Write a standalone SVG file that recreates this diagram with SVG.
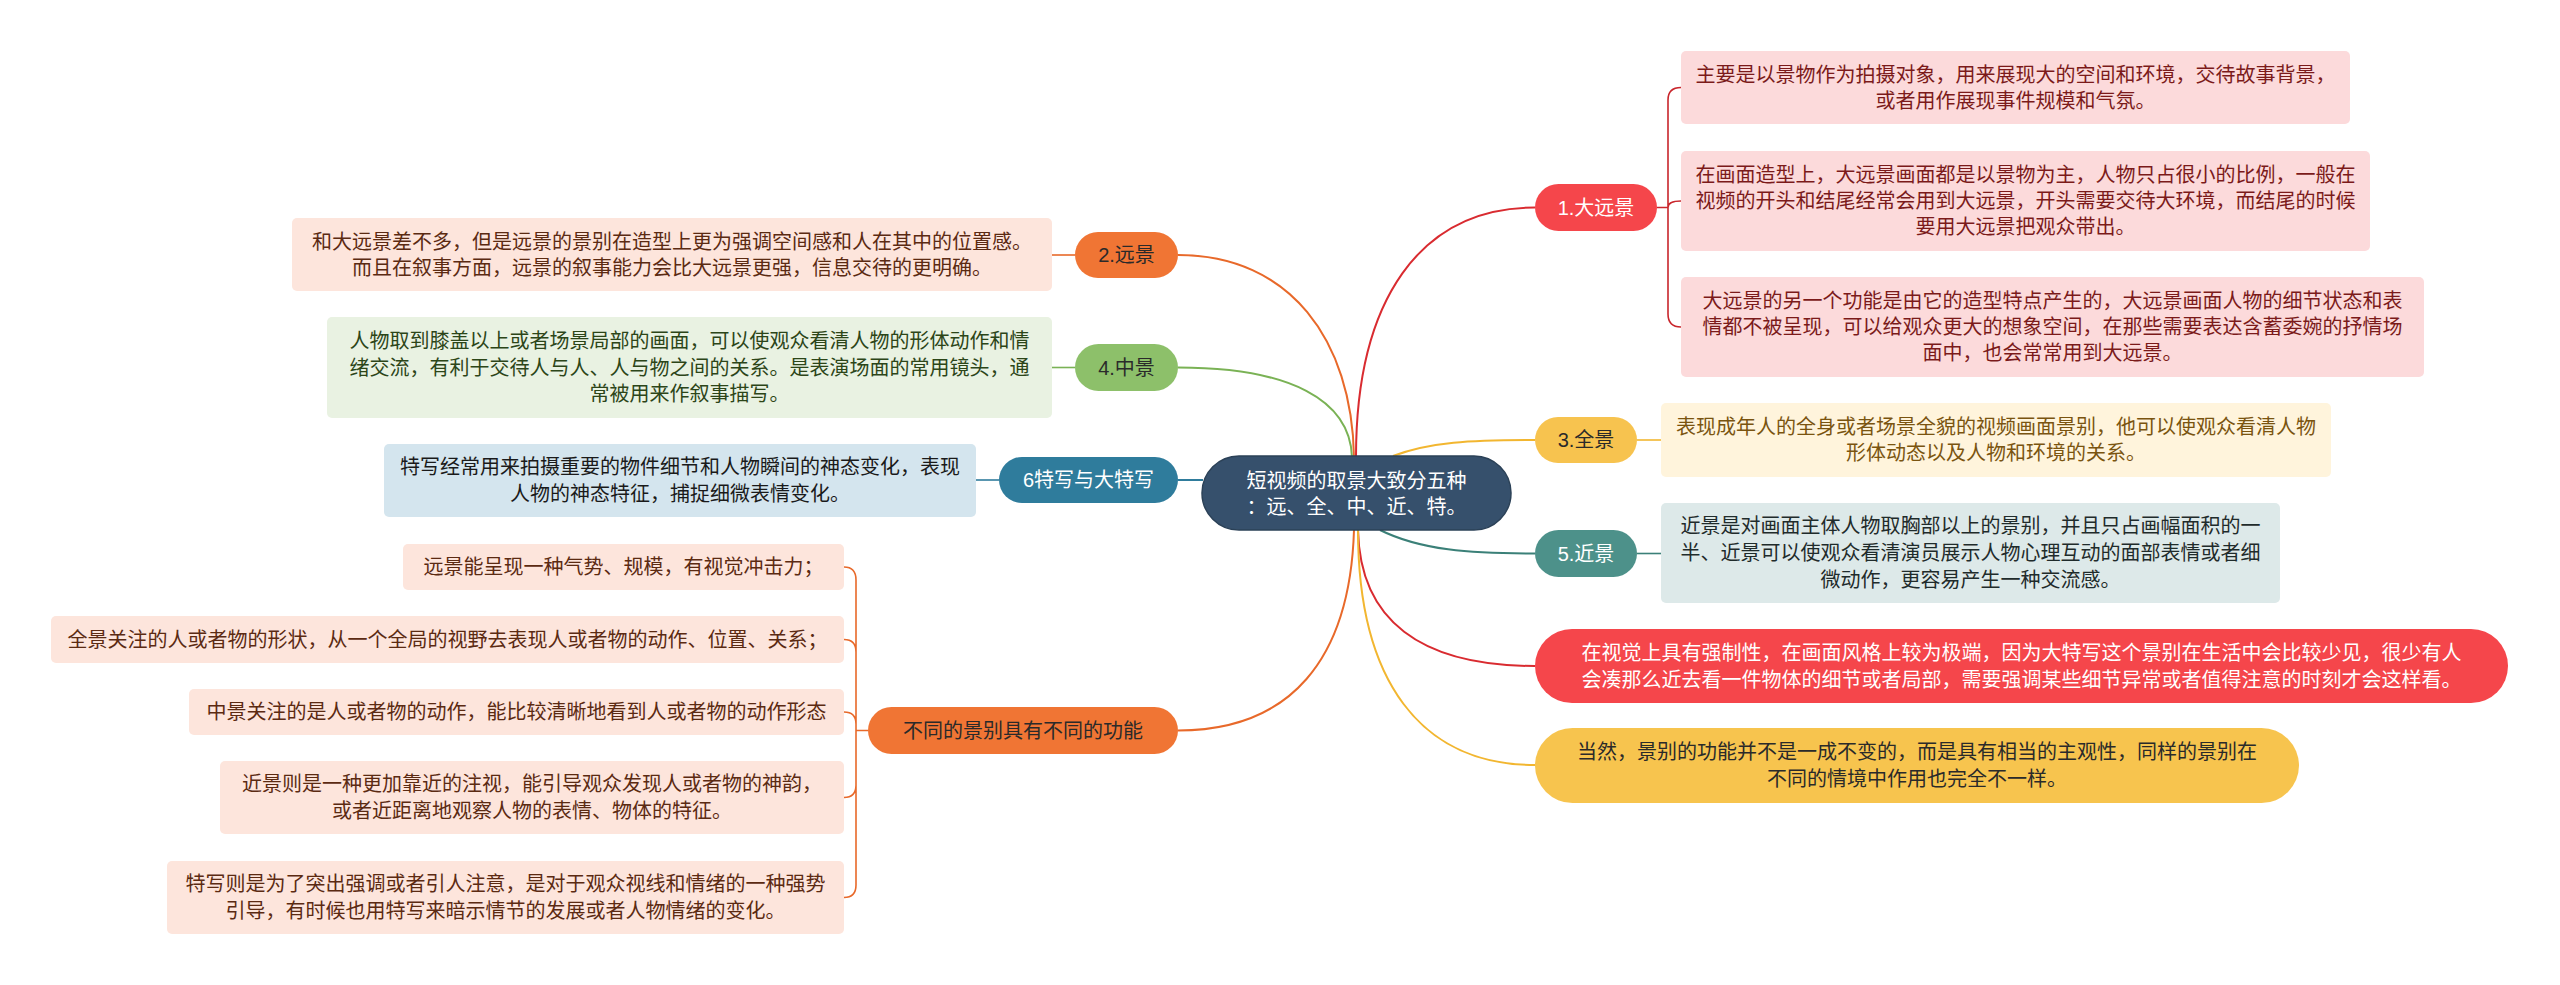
<svg xmlns="http://www.w3.org/2000/svg" width="2560" height="985" viewBox="0 0 2560 985">
<style>
text{font-family:"Liberation Sans","Noto Sans CJK SC",sans-serif;font-size:20px;text-anchor:middle;dominant-baseline:central}
.w{fill:#ffffff}
.dk{fill:#2a2a2a}
.tA{fill:#7b1a1a}
.t3{fill:#7a5410}
.t5{fill:#1f2b2b}
.t2{fill:#5b2a12}
.t4{fill:#2c4518}
.t6{fill:#1a1a1a}
.bx{stroke:none}
.c{fill:none;stroke-width:2}
.cs{fill:none;stroke-width:1.6}
</style>
<rect width="2560" height="985" fill="#ffffff"/>
<g id="connectors">
  <path class="c" stroke="#d92b30" d="M1356 457 C1356 300 1420 207.5 1535 207.5"/>
  <path class="c" stroke="#e8692a" d="M1178 255 C1290 255 1352 340 1354 457"/>
  <path class="c" stroke="#7ab255" d="M1178 367.5 C1290 367.5 1350 400 1352 457"/>
  <path class="c" stroke="#f2b630" d="M1393 456 C1430 442 1470 440 1535 440"/>
  <path class="c" stroke="#3b8078" d="M1380 530 C1420 550 1470 553.5 1535 553.5"/>
  <path class="c" stroke="#2f7c9c" d="M1178 480 H1203"/>
  <path class="c" stroke="#d92b30" d="M1358 530 C1360 620 1420 666 1535 666"/>
  <path class="c" stroke="#f2b630" d="M1358 530 C1358 680 1420 765 1535 765"/>
  <path class="c" stroke="#e8692a" d="M1354 530 C1350 660 1290 730.5 1178 730.5"/>
  <path class="cs" stroke="#c9262c" d="M1657 207.5 H1668 M1668 207.5 V100 Q1668 87.5 1681 87.5 M1668 207.5 Q1668 201 1681 201 M1668 207.5 V314 Q1668 327 1681 327"/>
  <path class="cs" stroke="#f2b630" d="M1637 440 H1661"/>
  <path class="cs" stroke="#3b8078" d="M1637 553.5 H1661"/>
  <path class="cs" stroke="#e8692a" d="M1075 255 H1052"/>
  <path class="cs" stroke="#7ab255" d="M1075 367.5 H1052"/>
  <path class="cs" stroke="#2f7c9c" d="M999 480 H976"/>
  <path class="cs" stroke="#e8692a" d="M868 730.5 H856 M856 730.5 V580 Q856 567 844 567 M856 730.5 V652 Q856 639.5 844 639.5 M856 730.5 V724 Q856 712 844 712 M856 730.5 V785 Q856 797.5 844 797.5 M856 730.5 V885 Q856 897.5 844 897.5"/>
</g>
<g id="center">
  <rect x="1202" y="456" width="309" height="74" rx="37" fill="#36506c" stroke="#2b4157" stroke-width="1.5"/>
  <text class="w" x="1356.5" y="481">短视频的取景大致分五种</text>
  <text class="w" x="1356.5" y="507">：远、全、中、近、特。</text>
</g>
<g id="n1">
  <rect x="1535" y="184" width="122" height="47" rx="23.5" fill="#f5464b"/>
  <text class="w" x="1596" y="207.5">1.大远景</text>
</g>
<g id="n1a">
  <rect x="1681" y="51" width="669" height="73" rx="5" fill="#fcdadb"/>
  <text class="tA" x="2015.5" y="75">主要是以景物作为拍摄对象，用来展现大的空间和环境，交待故事背景，</text>
  <text class="tA" x="2015.5" y="101">或者用作展现事件规模和气氛。</text>
</g>
<g id="n1b">
  <rect x="1681" y="151" width="689" height="100" rx="5" fill="#fcdadb"/>
  <text class="tA" x="2025.5" y="175">在画面造型上，大远景画面都是以景物为主，人物只占很小的比例，一般在</text>
  <text class="tA" x="2025.5" y="201">视频的开头和结尾经常会用到大远景，开头需要交待大环境，而结尾的时候</text>
  <text class="tA" x="2025.5" y="227">要用大远景把观众带出。</text>
</g>
<g id="n1c">
  <rect x="1681" y="277" width="743" height="100" rx="5" fill="#fcdadb"/>
  <text class="tA" x="2052.5" y="301">大远景的另一个功能是由它的造型特点产生的，大远景画面人物的细节状态和表</text>
  <text class="tA" x="2052.5" y="327">情都不被呈现，可以给观众更大的想象空间，在那些需要表达含蓄委婉的抒情场</text>
  <text class="tA" x="2052.5" y="353">面中，也会常常用到大远景。</text>
</g>
<g id="n3">
  <rect x="1535" y="417" width="102" height="46" rx="23" fill="#f7c34f"/>
  <text class="dk" x="1586" y="440">3.全景</text>
</g>
<g id="n3a">
  <rect x="1661" y="403" width="670" height="74" rx="5" fill="#fff4dc"/>
  <text class="t3" x="1996" y="427">表现成年人的全身或者场景全貌的视频画面景别，他可以使观众看清人物</text>
  <text class="t3" x="1996" y="453">形体动态以及人物和环境的关系。</text>
</g>
<g id="n5">
  <rect x="1535" y="530" width="102" height="47" rx="23.5" fill="#4d918a"/>
  <text class="w" x="1586" y="553.5">5.近景</text>
</g>
<g id="n5a">
  <rect x="1661" y="503" width="619" height="100" rx="5" fill="#dde9e9"/>
  <text class="t5" x="1970.5" y="526">近景是对画面主体人物取胸部以上的景别，并且只占画幅面积的一</text>
  <text class="t5" x="1970.5" y="553">半、近景可以使观众看清演员展示人物心理互动的面部表情或者细</text>
  <text class="t5" x="1970.5" y="580">微动作，更容易产生一种交流感。</text>
</g>
<g id="n7">
  <rect x="1535" y="629" width="973" height="74" rx="37" fill="#f5464b"/>
  <text class="w" x="2021.5" y="653">在视觉上具有强制性，在画面风格上较为极端，因为大特写这个景别在生活中会比较少见，很少有人</text>
  <text class="w" x="2021.5" y="680">会凑那么近去看一件物体的细节或者局部，需要强调某些细节异常或者值得注意的时刻才会这样看。</text>
</g>
<g id="n8">
  <rect x="1535" y="728" width="764" height="75" rx="37.5" fill="#f7c44e"/>
  <text class="dk" x="1917" y="752">当然，景别的功能并不是一成不变的，而是具有相当的主观性，同样的景别在</text>
  <text class="dk" x="1917" y="779">不同的情境中作用也完全不一样。</text>
</g>
<g id="n2">
  <rect x="1075" y="232" width="103" height="46" rx="23" fill="#f07534"/>
  <text class="dk" x="1126.5" y="255">2.远景</text>
</g>
<g id="n2a">
  <rect x="292" y="218" width="760" height="73" rx="5" fill="#fde5dc"/>
  <text class="t2" x="672" y="242">和大远景差不多，但是远景的景别在造型上更为强调空间感和人在其中的位置感。</text>
  <text class="t2" x="672" y="268">而且在叙事方面，远景的叙事能力会比大远景更强，信息交待的更明确。</text>
</g>
<g id="n4">
  <rect x="1075" y="344" width="103" height="47" rx="23.5" fill="#8dc06a"/>
  <text class="dk" x="1126.5" y="367.5">4.中景</text>
</g>
<g id="n4a">
  <rect x="327" y="317" width="725" height="101" rx="5" fill="#e9f2e2"/>
  <text class="t4" x="689.5" y="341">人物取到膝盖以上或者场景局部的画面，可以使观众看清人物的形体动作和情</text>
  <text class="t4" x="689.5" y="367.5">绪交流，有利于交待人与人、人与物之间的关系。是表演场面的常用镜头，通</text>
  <text class="t4" x="689.5" y="394">常被用来作叙事描写。</text>
</g>
<g id="n6">
  <rect x="999" y="457" width="179" height="46" rx="23" fill="#2f7c9c"/>
  <text class="w" x="1088.5" y="480">6特写与大特写</text>
</g>
<g id="n6a">
  <rect x="384" y="444" width="592" height="73" rx="5" fill="#d4e5ee"/>
  <text class="t6" x="680" y="467">特写经常用来拍摄重要的物件细节和人物瞬间的神态变化，表现</text>
  <text class="t6" x="680" y="494">人物的神态特征，捕捉细微表情变化。</text>
</g>
<g id="n9">
  <rect x="868" y="707" width="310" height="47" rx="23.5" fill="#f07534"/>
  <text class="dk" x="1023" y="730.5">不同的景别具有不同的功能</text>
</g>
<g id="n9a">
  <rect x="403" y="544" width="441" height="46" rx="5" fill="#fde5dc"/>
  <text class="t2" x="623.5" y="567">远景能呈现一种气势、规模，有视觉冲击力；</text>
</g>
<g id="n9b">
  <rect x="51" y="616" width="793" height="47" rx="5" fill="#fde5dc"/>
  <text class="t2" x="447.5" y="639.5">全景关注的人或者物的形状，从一个全局的视野去表现人或者物的动作、位置、关系；</text>
</g>
<g id="n9c">
  <rect x="189" y="689" width="655" height="46" rx="5" fill="#fde5dc"/>
  <text class="t2" x="516.5" y="712">中景关注的是人或者物的动作，能比较清晰地看到人或者物的动作形态</text>
</g>
<g id="n9d">
  <rect x="220" y="761" width="624" height="73" rx="5" fill="#fde5dc"/>
  <text class="t2" x="532" y="784">近景则是一种更加靠近的注视，能引导观众发现人或者物的神韵，</text>
  <text class="t2" x="532" y="811">或者近距离地观察人物的表情、物体的特征。</text>
</g>
<g id="n9e">
  <rect x="167" y="861" width="677" height="73" rx="5" fill="#fde5dc"/>
  <text class="t2" x="505.5" y="884">特写则是为了突出强调或者引人注意，是对于观众视线和情绪的一种强势</text>
  <text class="t2" x="505.5" y="911">引导，有时候也用特写来暗示情节的发展或者人物情绪的变化。</text>
</g>
</svg>
